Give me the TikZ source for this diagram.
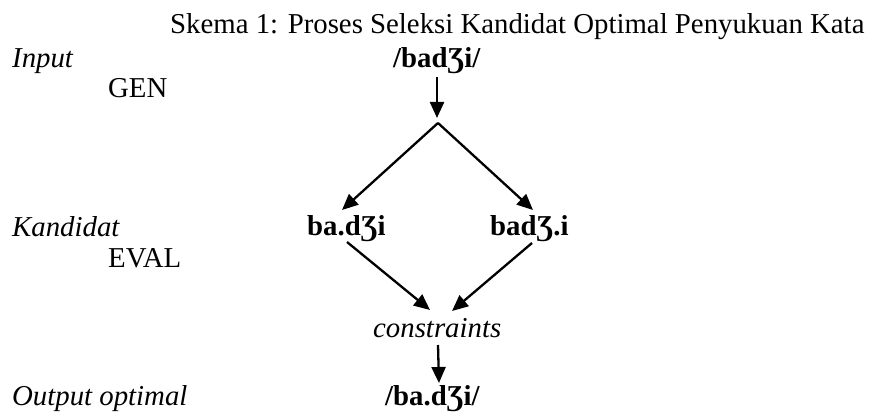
\documentclass[tikz,border=0pt]{standalone}
\usepackage{fontspec}
\setmainfont{Liberation Serif}
\usetikzlibrary{arrows.meta}
\begin{document}
\begin{tikzpicture}[x=1pt,y=-1pt,
  lbl/.style={anchor=base west,inner sep=0pt,font=\fontsize{28.8}{34}\selectfont},
  arr/.style={line width=2.3pt,-{Triangle[length=16pt,width=14pt]}}]
\useasboundingbox (0,0) rectangle (876,412);
\node[lbl] (title) at (170,34) {Skema 1: Proses Seleksi Kandidat Optimal Penyukuan Kata};
\node[lbl] (input) at (12,68) {\textit{Input}};
\node[lbl] (gen) at (108,98) {GEN};
\node[lbl] (inp) at (393,67) {\textbf{/badƷi/}};
\node[lbl] (kand) at (12,236) {\textit{Kandidat}};
\node[lbl] (c1) at (307,235) {\textbf{ba.dƷi}};
\node[lbl] (c2) at (490,235) {\textbf{badƷ.i}};
\node[lbl] (eval) at (108,267) {EVAL};
\node[lbl] (cons) at (373,337) {\textit{constraints}};
\node[lbl] (out) at (12,405) {\textit{Output optimal}};
\node[lbl] (res) at (385,405) {\textbf{/ba.dƷi/}};
\coordinate (a1s) at (437,77);
\coordinate (a1e) at (437,118);
\coordinate (apex) at (438,123);
\coordinate (l1) at (342,210);
\coordinate (r1) at (533,210);
\coordinate (l2s) at (347,242);
\coordinate (l2e) at (430,310);
\coordinate (r2s) at (532,243);
\coordinate (r2e) at (452,311);
\coordinate (a3s) at (438,345);
\coordinate (a3e) at (439,383);
\draw[arr] (a1s) -- (a1e);
\draw[arr] (apex) -- (l1);
\draw[arr] (apex) -- (r1);
\draw[arr] (l2s) -- (l2e);
\draw[arr] (r2s) -- (r2e);
\draw[arr] (a3s) -- (a3e);
\end{tikzpicture}
\end{document}
